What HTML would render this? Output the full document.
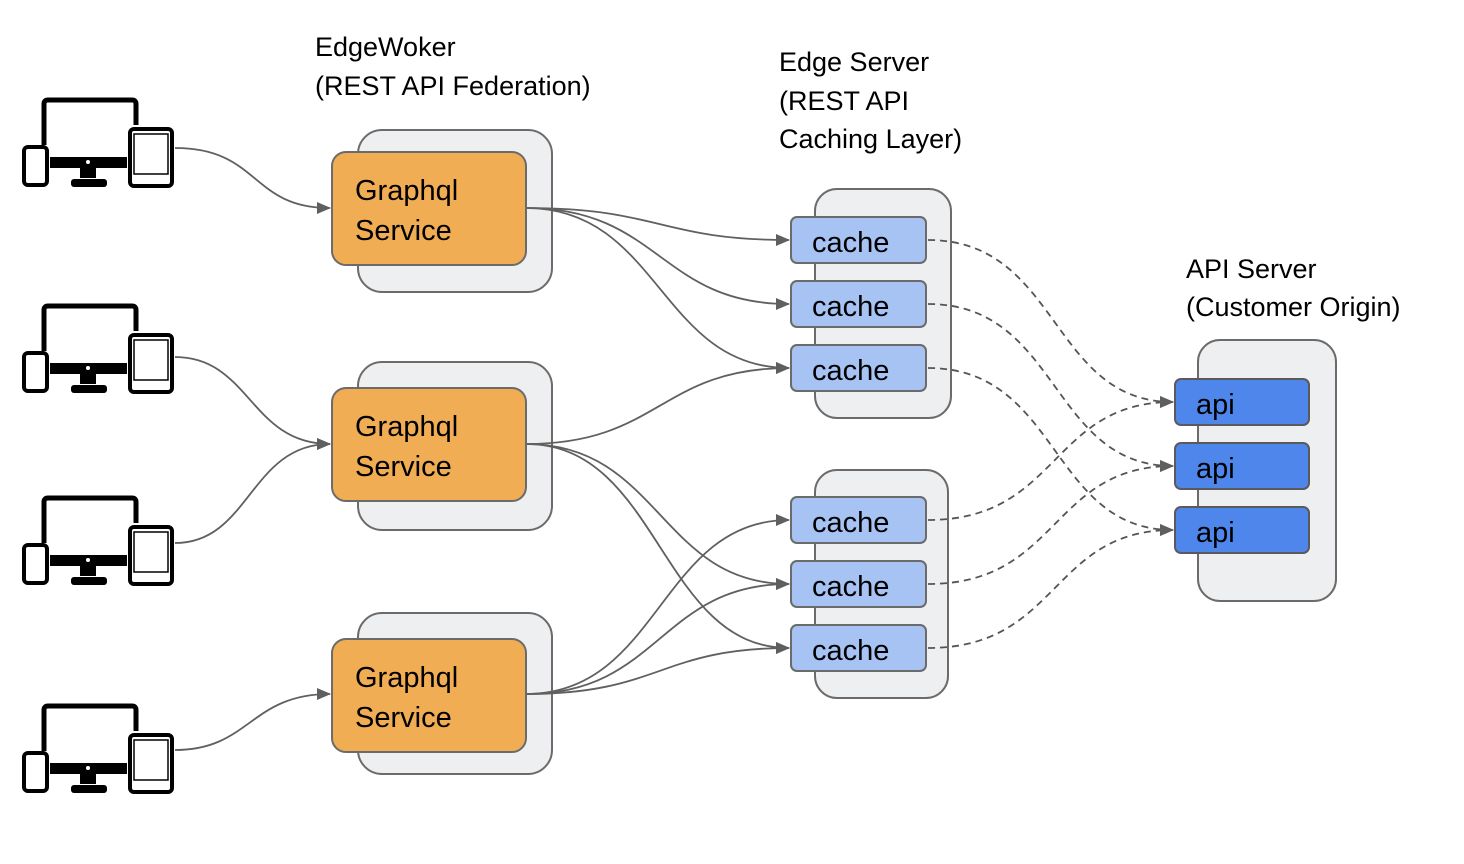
<!DOCTYPE html>
<html><head><meta charset="utf-8"><style>
html,body{margin:0;padding:0;background:#fff;}
svg{display:block;}
text{font-family:"Liberation Sans",Calibri,sans-serif;fill:#000;}
</style></head><body>
<svg width="1464" height="864" viewBox="0 0 1464 864" xmlns="http://www.w3.org/2000/svg">
<defs>
<marker id="ar" markerWidth="14" markerHeight="12" refX="13" refY="6" orient="auto" markerUnits="userSpaceOnUse" viewBox="0 0 14 12">
<path d="M0,0 L14,6 L0,12 z" fill="#5f5f5f"/></marker>
<g id="dev">
<path d="M22,45 V4 Q22,0 26,0 H110 Q114,0 114,4 V25" fill="none" stroke="#000" stroke-width="5"/>
<rect x="28" y="57" width="77" height="11" fill="#000"/>
<circle cx="66" cy="62" r="2" fill="#fff"/>
<rect x="58" y="68" width="16" height="10" fill="#000"/>
<rect x="49" y="79" width="36" height="8" rx="3" fill="#000"/>
<rect x="2" y="47" width="23" height="38" rx="4" fill="#fff" stroke="#000" stroke-width="4"/>
<rect x="108" y="29" width="42" height="57" rx="4" fill="#fff" stroke="#000" stroke-width="4"/>
<rect x="112" y="34" width="34" height="40" fill="#fff" stroke="#000" stroke-width="1.5"/>
<circle cx="122" cy="80" r="1.5" fill="#fff"/><circle cx="128" cy="80" r="1.5" fill="#fff"/><circle cx="134" cy="80" r="1.5" fill="#fff"/>
</g>
</defs>

<use href="#dev" x="22" y="100"/>
<use href="#dev" x="22" y="306"/>
<use href="#dev" x="22" y="498"/>
<use href="#dev" x="22" y="706"/>

<g font-size="27">
<text x="315" y="56">EdgeWoker</text>
<text x="315" y="95">(REST API Federation)</text>
<text x="779" y="71">Edge Server</text>
<text x="779" y="110">(REST API</text>
<text x="779" y="148">Caching Layer)</text>
<text x="1186" y="278">API Server</text>
<text x="1186" y="316">(Customer Origin)</text>
</g>

<g fill="#eeeff0" stroke="#6b6b6b" stroke-width="2">
<rect x="358" y="130" width="194" height="162" rx="24"/>
<rect x="358" y="362" width="194" height="168" rx="24"/>
<rect x="358" y="613" width="194" height="161" rx="24"/>
<rect x="815" y="189" width="136" height="229" rx="22"/>
<rect x="815" y="470" width="133" height="228" rx="22"/>
<rect x="1198" y="340" width="138" height="261" rx="22"/>
</g>

<g fill="none" stroke="#606060" stroke-width="1.8" marker-end="url(#ar)">
<path d="M175,148 C260,148 250,208 330,208"/>
<path d="M175,357 C250,357 250,444 330,444"/>
<path d="M175,543 C250,543 250,444 330,444"/>
<path d="M175,750 C250,750 250,694 330,694"/>
<path d="M526,208 C660,208 660,240 789,240"/>
<path d="M526,208 C660,208 660,304 789,304"/>
<path d="M526,208 C660,208 660,368 789,368"/>
<path d="M526,444 C660,444 660,368 789,368"/>
<path d="M526,444 C660,444 660,584 789,584"/>
<path d="M526,444 C660,444 660,648 789,648"/>
<path d="M526,694 C660,694 660,520 789,520"/>
<path d="M526,694 C660,694 660,584 789,584"/>
<path d="M526,694 C660,694 660,648 789,648"/>
</g>
<g fill="none" stroke="#555" stroke-width="1.8" stroke-dasharray="7,5" marker-end="url(#ar)">
<path d="M928,240 C1060,240 1050,402 1173,402"/>
<path d="M928,304 C1060,304 1050,466 1173,466"/>
<path d="M928,368 C1060,368 1050,530 1173,530"/>
<path d="M928,520 C1060,520 1050,402 1173,402"/>
<path d="M928,584 C1060,584 1050,466 1173,466"/>
<path d="M928,648 C1060,648 1050,530 1173,530"/>
</g>

<g fill="#f0ad53" stroke="#6b6b6b" stroke-width="2">
<rect x="332" y="152" width="194" height="113" rx="14"/>
<rect x="332" y="388" width="194" height="113" rx="14"/>
<rect x="332" y="639" width="194" height="113" rx="14"/>
</g>
<g font-size="29">
<text x="355" y="200">Graphql</text><text x="355" y="240">Service</text>
<text x="355" y="436">Graphql</text><text x="355" y="476">Service</text>
<text x="355" y="687">Graphql</text><text x="355" y="727">Service</text>
</g>

<g fill="#a6c3f3" stroke="#6b6b6b" stroke-width="2">
<rect x="791" y="217" width="135" height="46" rx="6"/>
<rect x="791" y="281" width="135" height="46" rx="6"/>
<rect x="791" y="345" width="135" height="46" rx="6"/>
<rect x="791" y="497" width="135" height="46" rx="6"/>
<rect x="791" y="561" width="135" height="46" rx="6"/>
<rect x="791" y="625" width="135" height="46" rx="6"/>
</g>
<g font-size="29">
<text x="812" y="252">cache</text>
<text x="812" y="316">cache</text>
<text x="812" y="380">cache</text>
<text x="812" y="532">cache</text>
<text x="812" y="596">cache</text>
<text x="812" y="660">cache</text>
</g>

<g fill="#4f86ec" stroke="#5a5a5a" stroke-width="2">
<rect x="1175" y="379" width="134" height="46" rx="6"/>
<rect x="1175" y="443" width="134" height="46" rx="6"/>
<rect x="1175" y="507" width="134" height="46" rx="6"/>
</g>
<g font-size="29">
<text x="1196" y="414">api</text>
<text x="1196" y="478">api</text>
<text x="1196" y="542">api</text>
</g>
</svg>
</body></html>
